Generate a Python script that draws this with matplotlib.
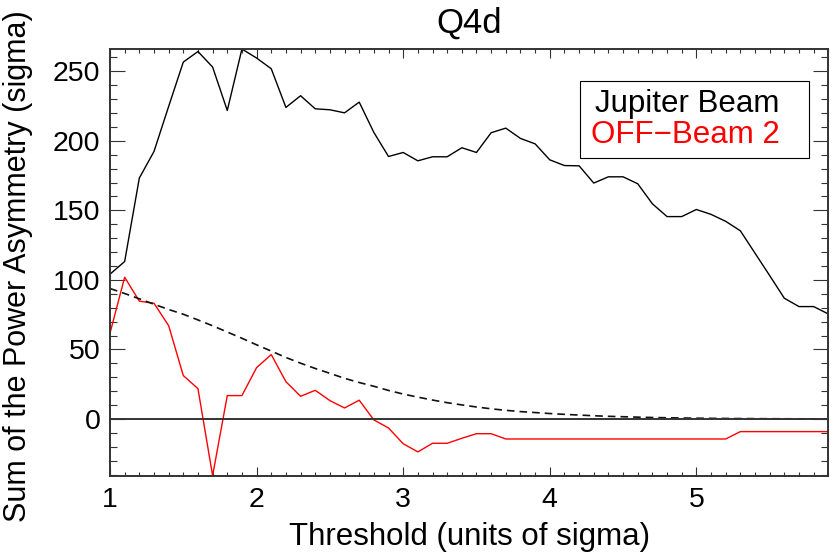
import matplotlib
matplotlib.use('Agg')
import matplotlib.pyplot as plt
from matplotlib.ticker import MultipleLocator
from matplotlib.patches import Rectangle

plt.rcParams['font.family'] = ['Liberation Sans', 'DejaVu Sans']
plt.rcParams['lines.scale_dashes'] = False

threshold = [1.0, 1.1, 1.2, 1.3, 1.4, 1.5, 1.6, 1.7, 1.8, 1.9,
             2.0, 2.1, 2.2, 2.3, 2.4, 2.5, 2.6, 2.7, 2.8, 2.9,
             3.0, 3.1, 3.2, 3.3, 3.4, 3.5, 3.6, 3.7, 3.8, 3.9,
             4.0, 4.1, 4.2, 4.3, 4.4, 4.5, 4.6, 4.7, 4.8, 4.9,
             5.0, 5.1, 5.2, 5.3, 5.4, 5.5, 5.6, 5.7, 5.8, 5.9]

jupiter_beam = [104.1, 113.2, 173.2, 192.3, 224.7, 256.6, 264.2, 253.0, 221.8, 266.0,
                259.5, 251.8, 224.0, 232.4, 223.0, 222.3, 220.1, 227.8, 206.0, 188.7,
                191.6, 185.6, 188.5, 188.5, 195.0, 191.6, 205.8, 209.1, 201.7, 197.8,
                186.3, 182.2, 182.0, 169.6, 174.1, 174.1, 169.1, 154.7, 145.5, 145.5,
                150.6, 147.1, 142.1, 135.3, 119.2, 103.1, 86.8, 80.8, 80.8, 75.5]

off_beam_2 = [61.7, 101.9, 84.7, 83.2, 67.1, 31.2, 21.8, -40.8, 16.8, 16.8,
              36.9, 46.3, 26.8, 16.3, 20.6, 13.2, 7.9, 13.5, -0.7, -6.5,
              -17.8, -23.7, -17.5, -17.5, -13.9, -10.6, -10.6, -14.4, -14.4, -14.4,
              -14.4, -14.4, -14.4, -14.4, -14.4, -14.4, -14.4, -14.4, -14.4, -14.4,
              -14.4, -14.4, -14.4, -9.1, -9.1, -9.1, -9.1, -9.1, -9.1, -9.1]

expected = [93.8, 90.2, 86.4, 82.5, 78.7, 75.3, 71.2, 67.0, 62.5, 58.0,
            53.3, 48.8, 44.2, 40.1, 36.3, 32.8, 29.2, 26.2, 23.5, 20.5,
            17.9, 15.7, 13.6, 11.7, 10.1, 8.6, 7.3, 6.2, 5.3, 4.6,
            3.9, 3.3, 2.8, 2.3, 1.9, 1.6, 1.3, 1.05, 0.85, 0.7,
            0.55, 0.45, 0.35, 0.28, 0.22, 0.17, 0.13, 0.10, 0.08, 0.06]

legend_labels = ['Jupiter Beam', 'OFF\u2212Beam 2']
legend_colors = ['black', '#ff0000']

W, H = 830, 557
fig = plt.figure(figsize=(W / 100, H / 100), dpi=100)
ax = fig.add_axes([110 / W, 81.3 / H, 718.3 / W, 426.7 / H])

ax.plot(threshold, jupiter_beam, color='black', lw=1.0)
ax.plot(threshold, off_beam_2, color='#ff0000', lw=1.0)
ax.plot(threshold, expected, color='#111111', lw=1.2, linestyle=(0, (5.5, 3.6)))
ax.axhline(0, color='#333333', lw=1.4)

ax.set_xlim(threshold[0], threshold[-1])
ax.set_ylim(min(off_beam_2), max(jupiter_beam))

ax.xaxis.set_major_locator(MultipleLocator(1))
ax.xaxis.set_minor_locator(MultipleLocator(0.1))
ax.yaxis.set_major_locator(MultipleLocator(50))
ax.yaxis.set_minor_locator(MultipleLocator(10))

ax.tick_params(axis='both', which='both', direction='in', top=True, right=True,
               color='#333333', width=0.8)
ax.tick_params(axis='x', which='major', length=6.5, pad=8, labelsize=20.5)
ax.tick_params(axis='x', which='minor', length=3.2)
ax.tick_params(axis='y', which='major', length=10.8, pad=7, labelsize=20.5)
ax.tick_params(axis='y', which='minor', length=5)

for s in ax.spines.values():
    s.set_color('#333333')
    s.set_linewidth(1.4)

ax.set_title('Q4d', fontsize=25, pad=12)
ax.set_xlabel('Threshold (units of sigma)', fontsize=22.5)
ax.set_ylabel('Sum of the Power Asymmetry (sigma)', fontsize=22)
ax.xaxis.set_label_coords(0.5, -0.108)
ax.yaxis.set_label_coords(-0.107, 0.49)

ax.add_patch(Rectangle((0.6546, 0.7446), 0.9735 - 0.6546, 0.925 - 0.7446,
                       transform=ax.transAxes, fill=False, edgecolor='black', lw=0.8))
ax.text(0.675, 0.853, legend_labels[0], color=legend_colors[0], fontsize=22.5,
        transform=ax.transAxes, va='baseline', ha='left')
ax.text(0.669, 0.780, legend_labels[1], color=legend_colors[1], fontsize=22.5,
        transform=ax.transAxes, va='baseline', ha='left')

fig.savefig('out.png', dpi=100)
